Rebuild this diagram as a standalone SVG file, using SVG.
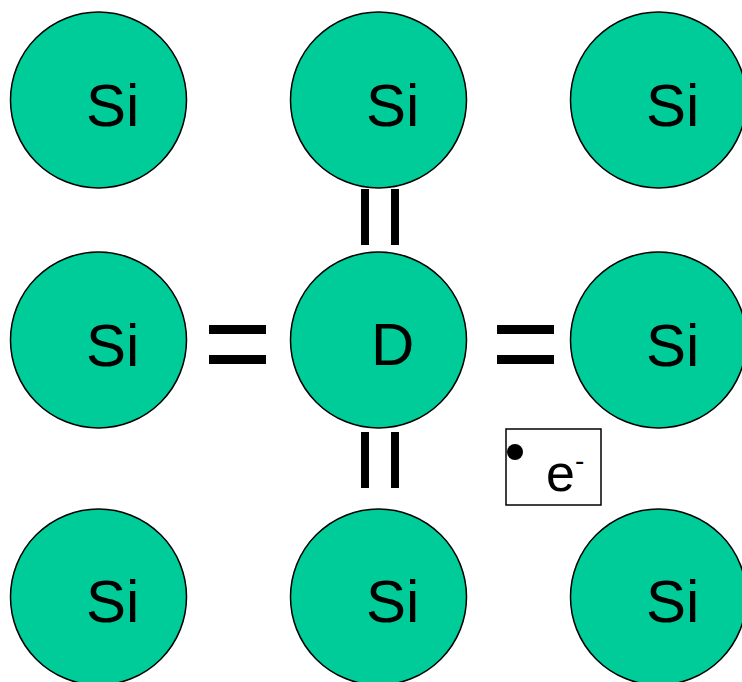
<svg xmlns="http://www.w3.org/2000/svg" width="742" height="682" viewBox="0 0 742 682">
<style>
.atom{fill:#00cc99;stroke:#000;stroke-width:1.5}
.lbl{font-family:"Liberation Sans",Arial,sans-serif;font-size:60px;fill:#000}
.bond{fill:#000}
</style>
<rect width="742" height="682" fill="#fff"/>
<g id="si-1-1"><circle class="atom" cx="98.5" cy="100" r="88"/><text class="lbl" x="86" y="126">Si</text></g>
<g id="si-1-2"><circle class="atom" cx="378.5" cy="100" r="88"/><text class="lbl" x="366" y="126">Si</text></g>
<g id="si-1-3"><circle class="atom" cx="658.5" cy="100" r="88"/><text class="lbl" x="646" y="126">Si</text></g>
<g id="si-2-1"><circle class="atom" cx="98.5" cy="340" r="88"/><text class="lbl" x="86" y="366">Si</text></g>
<g id="donor"><circle class="atom" cx="378.5" cy="340" r="88"/><text class="lbl" x="371" y="365">D</text></g>
<g id="si-2-3"><circle class="atom" cx="658.5" cy="340" r="88"/><text class="lbl" x="646" y="366">Si</text></g>
<g id="si-3-1"><circle class="atom" cx="98.5" cy="597" r="88"/><text class="lbl" x="86" y="622">Si</text></g>
<g id="si-3-2"><circle class="atom" cx="378.5" cy="597" r="88"/><text class="lbl" x="366" y="622">Si</text></g>
<g id="si-3-3"><circle class="atom" cx="658.5" cy="597" r="88"/><text class="lbl" x="646" y="622">Si</text></g>
<g id="connectors">
<rect class="bond" x="361" y="189" width="8" height="56"/>
<rect class="bond" x="391" y="189" width="8" height="56"/>
<rect class="bond" x="361" y="432" width="8" height="56"/>
<rect class="bond" x="391" y="432" width="8" height="56"/>
<rect class="bond" x="209" y="325" width="57" height="9"/>
<rect class="bond" x="209" y="355" width="57" height="9"/>
<rect class="bond" x="497" y="325" width="57" height="9"/>
<rect class="bond" x="497" y="355" width="57" height="9"/>
</g>
<g id="electron">
<rect x="506" y="429" width="95" height="76" fill="#fff" stroke="#000" stroke-width="1.5"/>
<circle cx="515" cy="452" r="8" fill="#000"/>
<text class="lbl" x="546" y="491" style="font-size:52px">e<tspan style="font-size:28px" dy="-21">-</tspan></text>
</g>
</svg>
